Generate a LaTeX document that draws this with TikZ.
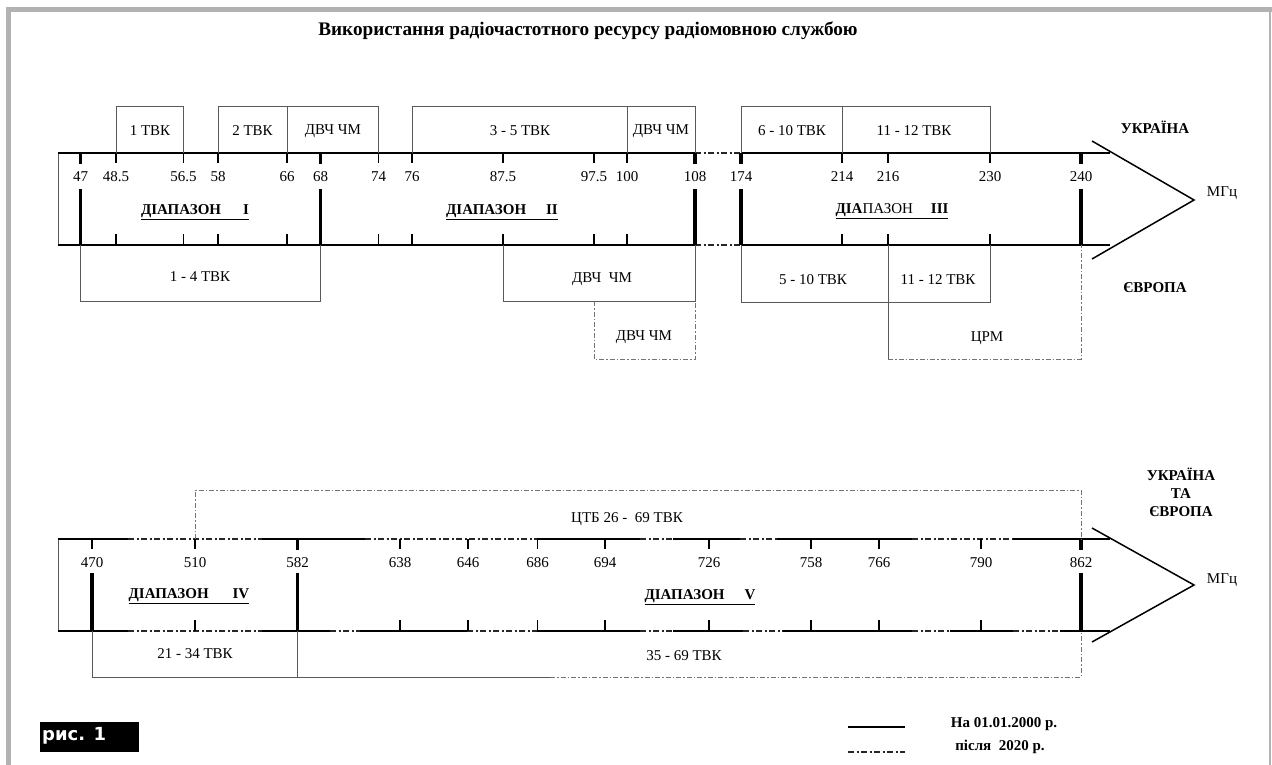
\documentclass[tikz,border=0pt]{standalone}
\usepackage{fontspec}
\setmainfont{Liberation Serif}
\newfontfamily\figfont{DejaVu Sans}
\begin{document}
\begin{tikzpicture}[x=1pt,y=-1pt,
  axisline/.style={line width=1.5pt,black},
  futline/.style={line width=1.3pt,black!85,dash pattern=on 6pt off 2.5pt on 2pt off 2.5pt},
  thintick/.style={line width=1.5pt,black},
  thicktick/.style={line width=3.5pt,black},
  boxline/.style={line width=0.8pt,black!65},
  dboxline/.style={line width=0.8pt,black!55,dash pattern=on 5pt off 2pt on 1.5pt off 2pt},
  lbl/.style={font=\fontsize{15}{17}\selectfont,inner sep=0pt},
  rng/.style={font=\bfseries\fontsize{15}{17}\selectfont,inner sep=0pt},
  bld/.style={font=\bfseries\fontsize{15}{18}\selectfont,inner sep=0pt,align=center},
  unit/.style={font=\fontsize{15}{17}\selectfont,inner sep=0pt}
]
\useasboundingbox (0,0) rectangle (1272,765);
% frame
\fill[black!30] (6,7) rectangle (1272,12);
\fill[black!30] (6,7) rectangle (11,765);
\fill[black!30] (1269,7) rectangle (1271,765);

% title
\node[font=\bfseries\fontsize{19.2}{21}\selectfont,inner sep=0pt] (title) at (588,31)
  {Використання радіочастотного ресурсу радіомовною службою};

% ===================== TOP AXIS =====================
\draw[boxline] (58,153) -- (58,245);
\draw[axisline] (58,153) -- (695,153);
\draw[futline] (695,153) -- (741,153);
\draw[axisline] (741,153) -- (1110,153);
\draw[axisline] (58,245) -- (695,245);
\draw[futline] (695,245) -- (741,245);
\draw[axisline] (741,245) -- (1110,245);
\coordinate (ua1) at (1092,141);
\coordinate (utip) at (1194,200);
\coordinate (ua2) at (1092,259);
\draw[axisline] (ua1) -- (utip) -- (ua2);

\foreach \x/\t [count=\i] in {116/48.5,183.5/56.5,218/58,287/66,378.5/74,412/76,503/87.5,594/97.5,627/100,842/214,888/216,990/230}{
  \draw[thintick] (\x,153) -- (\x,163);
  \draw[thintick] (\x,234) -- (\x,245);
  \node[lbl] (tn\i) at (\x,177) {\t};
}
\foreach \x/\t [count=\i] in {80.5/47,320.5/68,695/108,741/174,1081/240}{
  \draw[thicktick] (\x,153) -- (\x,164);
  \draw[thicktick] (\x,189) -- (\x,245);
  \node[lbl] (tk\i) at (\x,177) {\t};
}

% upper boxes
\draw[boxline] (116,153) -- (116,106) -- (183.5,106) -- (183.5,153);
\node[lbl] (u1) at (150,131) {1 ТВК};
\draw[boxline] (218,153) -- (218,106) -- (378.5,106) -- (378.5,153);
\draw[boxline] (287,106) -- (287,153);
\node[lbl] (u2) at (252.5,131) {2 ТВК};
\node[lbl] (u3) at (333,131) {ДВЧ ЧМ};
\draw[boxline] (412,153) -- (412,106) -- (695,106) -- (695,153);
\draw[boxline] (627,106) -- (627,153);
\node[lbl] (u4) at (520,131) {3 - 5 ТВК};
\node[lbl] (u5) at (661,131) {ДВЧ ЧМ};
\draw[boxline] (741,153) -- (741,106) -- (990,106) -- (990,153);
\draw[boxline] (842,106) -- (842,153);
\node[lbl] (u6) at (792,131) {6 - 10 ТВК};
\node[lbl] (u7) at (914,131) {11 - 12 ТВК};

% lower boxes
\draw[boxline] (80.5,245) -- (80.5,301) -- (320.5,301) -- (320.5,245);
\node[lbl] (l1) at (200,277) {1 - 4 ТВК};
\draw[boxline] (503,245) -- (503,301) -- (695,301) -- (695,245);
\node[lbl] (l2) at (602,279) {ДВЧ\ \ ЧМ};
\draw[dboxline] (594,301) -- (594,359) -- (695,359) -- (695,301);
\node[lbl] (l3) at (644,337) {ДВЧ ЧМ};
\draw[boxline] (741,245) -- (741,302) -- (990,302) -- (990,245);
\draw[boxline] (888,245) -- (888,359);
\node[lbl] (l4) at (813,280) {5 - 10 ТВК};
\node[lbl] (l5) at (938,280) {11 - 12 ТВК};
\draw[dboxline] (888,359) -- (1081,359) -- (1081,245);
\node[lbl] (l6) at (987,338) {ЦРМ};

% range names
\node[rng] (r1) at (195,212) {\underline{ДІАПАЗОН\hspace{22pt}I}};
\node[rng] (r2) at (502,212) {\underline{ДІАПАЗОН\hspace{20pt}II}};
\node[rng] (r3) at (892,211) {\underline{ДІА\mdseries ПАЗОН\hspace{18pt}\bfseries III}};

\node[bld] (ukr) at (1155,127) {УКРАЇНА};
\node[bld] (evr) at (1155,288) {ЄВРОПА};
\node[unit] (mhz1) at (1222,193) {МГц};

% ===================== BOTTOM AXIS =====================
\draw[boxline] (58,539) -- (58,631);
\foreach \a/\b in {58/128,262/365,537/640,673/740,777/912,1013/1110}{
  \draw[axisline] (\a,539) -- (\b,539);}
\foreach \a/\b in {128/262,365/537,640/673,740/777,912/1013}{
  \draw[futline] (\a,539) -- (\b,539);}
\foreach \a/\b in {58/128,262/330,360/467,537/640,673/743,783/912,950/1013,1060/1110}{
  \draw[axisline] (\a,631) -- (\b,631);}
\foreach \a/\b in {128/262,330/360,467/537,640/673,743/783,912/950,1013/1060}{
  \draw[futline] (\a,631) -- (\b,631);}
\coordinate (la1) at (1092,528);
\coordinate (ltip) at (1194,585);
\coordinate (la2) at (1092,642);
\draw[axisline] (la1) -- (ltip) -- (la2);

\foreach \x/\t [count=\i] in {195/510,400/638,468/646,537.5/686,605/694,709/726,811/758,879/766,981/790}{
  \draw[thintick] (\x,539) -- (\x,549);
  \draw[thintick] (\x,620) -- (\x,631);
  \node[lbl] (bn\i) at (\x,563) {\t};
}
\draw[thintick] (92,539) -- (92,549);
\draw[thicktick] (92,573) -- (92,631);
\node[lbl] (b470) at (92,563) {470};
\foreach \x/\t [count=\i] in {297.5/582,1081/862}{
  \draw[thicktick] (\x,539) -- (\x,550);
  \draw[thicktick] (\x,573) -- (\x,631);
  \node[lbl] (bk\i) at (\x,563) {\t};
}

% boxes
\draw[dboxline] (195,539) -- (195,490) -- (1081,490) -- (1081,539);
\node[lbl] (ctb) at (627,519) {ЦТБ 26 -\ \ 69 ТВК};
\draw[boxline] (92,631) -- (92,677) -- (297.5,677) -- (297.5,631);
\node[lbl] (b21) at (195,654) {21 - 34 ТВК};
\draw[boxline] (297.5,677) -- (550,677);
\draw[dboxline] (550,677) -- (1081,677) -- (1081,631);
\node[lbl] (b35) at (684,656) {35 - 69 ТВК};

\node[rng] (r4) at (189,596) {\underline{ДІАПАЗОН\hspace{24pt}IV}};
\node[rng] (r5) at (700,597) {\underline{ДІАПАЗОН\hspace{20pt}V}};

\node[bld] (ukr2) at (1181,492) {УКРАЇНА\\ТА\\ЄВРОПА};
\node[unit] (mhz2) at (1222,580) {МГц};

% ===================== LEGEND =====================
\coordinate (lg1a) at (848,727);
\coordinate (lg1b) at (905,727);
\coordinate (lg2a) at (848,752);
\coordinate (lg2b) at (905,752);
\draw[line width=1.2pt] (lg1a) -- (lg1b);
\draw[futline,line width=1.2pt] (lg2a) -- (lg2b);
\node[bld] (lgt1) at (1004,724) {На 01.01.2000 р.};
\node[bld] (lgt2) at (1000,747) {після\ \ 2020 р.};

\fill[black] (40,722) rectangle (139,752);
\node[anchor=west,text=white,inner sep=0pt,font=\figfont\bfseries\fontsize{18}{20}\selectfont] (fig) at (42,736) {рис. 1};
\end{tikzpicture}
\end{document}
